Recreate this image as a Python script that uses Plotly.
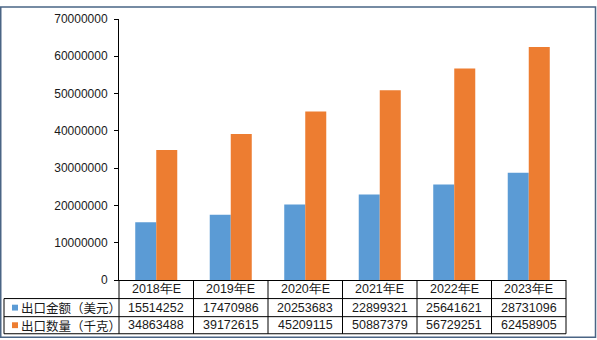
import plotly.graph_objects as go

categories = ["2018年E", "2019年E", "2020年E", "2021年E", "2022年E", "2023年E"]
series_names = ["出口金额（美元）", "出口数量（千克）"]
export_value = [15514252, 17470986, 20253683, 22899321, 25641621, 28731096]
export_qty = [34863488, 39172615, 45209115, 50887379, 56729251, 62458905]
colors = ["#5B9BD5", "#ED7D31"]
y_ticks = [0, 10000000, 20000000, 30000000, 40000000, 50000000, 60000000, 70000000]

W, H = 597, 340
L, R, T, B = 119, 31, 13, 60
PW, PH = W - L - R, H - T - B

def px_x(px):
    return (px - L) / PW

def px_y(py):
    return (H - B - py) / PH

fig = go.Figure()
for name, vals, c in zip(series_names, [export_value, export_qty], colors):
    fig.add_trace(go.Bar(x=categories, y=vals, name=name, marker=dict(color=c, line=dict(width=0))))

num_font = dict(family="Liberation Sans, Arial", size=12, color="#1a1a1a")
tbl_font = dict(family="Liberation Sans, Arial", size=12.5, color="#1a1a1a")
cjk_font = dict(family="Noto Sans CJK SC", size=12.5, color="#1a1a1a")

fig.update_layout(
    width=W, height=H,
    margin=dict(l=L, r=R, t=T, b=B),
    paper_bgcolor="white", plot_bgcolor="white",
    barmode="group", bargap=0.436, bargroupgap=0,
    showlegend=False,
    xaxis=dict(type="category", showticklabels=False, ticks="", showgrid=False,
               showline=True, linecolor="black", linewidth=1, zeroline=False),
    yaxis=dict(range=[0, 70000000], tickvals=y_ticks, ticktext=[str(v) for v in y_ticks],
               showgrid=False, zeroline=False, showline=True, linecolor="black", linewidth=1,
               ticks="outside", ticklen=4, tickcolor="black", tickfont=num_font,
               ticklabelstandoff=4),
)

shapes = []
annotations = []
n = len(categories)
row_ys = [280, 299, 317.5, 335]
left_px = 4
line = dict(color="black", width=1)
for py in row_ys[1:]:
    shapes.append(dict(type="line", xref="paper", yref="paper", x0=px_x(left_px), x1=1,
                       y0=px_y(py), y1=px_y(py), line=line))
for k in range(n + 1):
    shapes.append(dict(type="line", xref="paper", yref="paper", x0=k / n, x1=k / n,
                       y0=px_y(row_ys[0]), y1=px_y(row_ys[-1]), line=line))
shapes.append(dict(type="line", xref="paper", yref="paper", x0=px_x(left_px), x1=px_x(left_px),
                   y0=px_y(row_ys[1]), y1=px_y(row_ys[-1]), line=line))

for cat in categories:
    annotations.append(dict(x=cat, xref="x", y=px_y((row_ys[0] + row_ys[1]) / 2), yref="paper",
                            text=cat, showarrow=False, font=tbl_font, xanchor="center", yanchor="middle"))
for r, (name, vals, c) in enumerate(zip(series_names, [export_value, export_qty], colors)):
    mid = (row_ys[r + 1] + row_ys[r + 2]) / 2
    yc = px_y(mid)
    for cat, v in zip(categories, vals):
        annotations.append(dict(x=cat, xref="x", y=yc, yref="paper", text=str(v), showarrow=False,
                                font=tbl_font, xanchor="center", yanchor="middle"))
    annotations.append(dict(x=px_x(19), xref="paper", y=yc, yref="paper", text=name, showarrow=False,
                            font=cjk_font, xanchor="left", yanchor="middle"))
    shapes.append(dict(type="rect", xref="paper", yref="paper", x0=px_x(12), x1=px_x(18),
                       y0=px_y(mid - 3), y1=px_y(mid + 3), fillcolor=c, line=dict(width=0)))

shapes.append(dict(type="rect", xref="paper", yref="paper", x0=px_x(0.75), x1=px_x(595.5),
                   y0=px_y(0.75), y1=px_y(338.5), line=dict(color="#4a6585", width=1.5)))

fig.update_layout(shapes=shapes, annotations=annotations)
fig.write_html("out.html")
